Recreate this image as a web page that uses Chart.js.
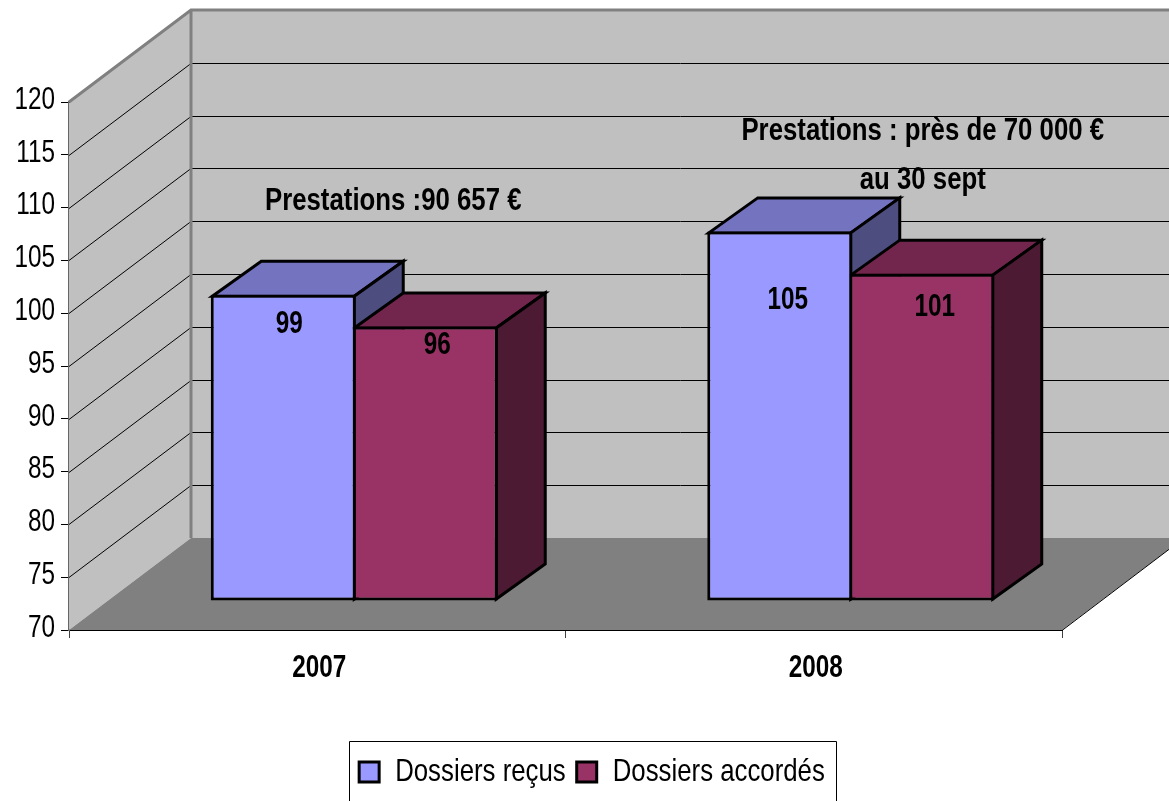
<!DOCTYPE html>
<html>
<head>
<meta charset="utf-8">
<style>
  html, body { margin: 0; padding: 0; background: #fff; overflow: hidden; }
</style>
<script src="https://cdn.jsdelivr.net/npm/chart.js@4"></script>
</head>
<body>
<canvas id="myChart" width="1169" height="801" style="display:block"></canvas>
<script>
const years = ["2007", "2008"];
const dossiersRecus = [99, 105];
const dossiersAccordes = [96, 101];
const yTicks = [70, 75, 80, 85, 90, 95, 100, 105, 110, 115, 120];
const notes = ["Prestations :90 657 €", "Prestations : près de 70 000 €", "au 30 sept"];

const FONT = '"Liberation Sans", Arial, sans-serif';

// depth of the box, and how far back the bars stand on the floor
const WALL = { x: 122, y: -92 };
const BAR_SHIFT = { x: 37, y: -29 };
const BAR_DEPTH = { x: 49, y: -35 };
const EDGE = 3;

// no narrow font here, so squeeze the text like Arial Narrow
const canvas = document.getElementById("myChart");
const rawCtx = canvas.getContext("2d");
const rawFill = rawCtx.fillText.bind(rawCtx);
const rawMeasure = rawCtx.measureText.bind(rawCtx);
const squeeze = text => /[a-z]/i.test(text) ? 0.806 : 0.76;
rawCtx.fillText = function (text, x, y) {
    rawCtx.save();
    rawCtx.translate(x, y);
    rawCtx.scale(squeeze(String(text)), 1);
    rawFill(text, 0, 0);
    rawCtx.restore();
};
rawCtx.measureText = text => ({ width: rawMeasure(text).width * squeeze(String(text)) });

function poly(ctx, pts, fill, stroke, lw) {
    ctx.beginPath();
    pts.forEach((p, i) => i ? ctx.lineTo(p[0], p[1]) : ctx.moveTo(p[0], p[1]));
    ctx.closePath();
    if (fill) { ctx.fillStyle = fill; ctx.fill(); }
    if (stroke) { ctx.strokeStyle = stroke; ctx.lineWidth = lw; ctx.lineJoin = "miter"; ctx.stroke(); }
}

const box3d = {
    id: "box3d",
    afterLayout(chart) {
        // centre the legend under the picture, not under the plot
        chart.legend.left = 0;
        chart.legend.right = 1184;
    },
    beforeDatasetsDraw(chart) {
        const ctx = chart.ctx, a = chart.chartArea, y = chart.scales.y;
        const w = WALL, d = BAR_DEPTH;
        ctx.save();
        poly(ctx, [[a.left, a.top], [a.left + w.x, a.top + w.y], [a.left + w.x, a.bottom + w.y], [a.left, a.bottom]], "#c0c0c0");
        poly(ctx, [[a.left + w.x, a.top + w.y], [a.right + w.x, a.top + w.y], [a.right + w.x, a.bottom + w.y], [a.left + w.x, a.bottom + w.y]], "#c0c0c0");
        poly(ctx, [[a.left, a.bottom], [a.left + w.x, a.bottom + w.y], [a.right + w.x, a.bottom + w.y], [a.right, a.bottom]], "#808080");

        ctx.strokeStyle = "#000";
        ctx.lineWidth = 1;
        yTicks.forEach(t => {
            if (t === yTicks[0]) return;
            const py = Math.round(y.getPixelForValue(t)) + 0.5;
            ctx.beginPath();
            ctx.moveTo(a.left, py);
            ctx.lineTo(a.left + w.x, py + w.y);
            ctx.lineTo(a.right + w.x, py + w.y);
            ctx.stroke();
        });
        // outline of the walls, grey like the original
        ctx.strokeStyle = "#808080";
        ctx.lineWidth = 3;
        ctx.beginPath();
        ctx.moveTo(a.left, a.top);
        ctx.lineTo(a.left + w.x, a.top + w.y);
        ctx.lineTo(a.right + w.x, a.top + w.y);
        ctx.moveTo(a.left + w.x, a.top + w.y);
        ctx.lineTo(a.left + w.x, a.bottom + w.y);
        ctx.stroke();
        ctx.strokeStyle = "#000";
        ctx.lineWidth = 1;
        ctx.beginPath();
        ctx.moveTo(a.right, a.bottom + 0.5);
        ctx.lineTo(a.right + w.x, a.bottom + w.y);
        ctx.stroke();

        // top and side faces left to right, so the right bar hides the left one
        ctx.translate(BAR_SHIFT.x, BAR_SHIFT.y);
        const half = EDGE / 2;
        chart.data.labels.forEach((lab, j) => {
            chart.data.datasets.forEach((ds, i) => {
                const bar = chart.getDatasetMeta(i).data[j];
                const l = bar.x - bar.width / 2 + half, r = bar.x + bar.width / 2 - half;
                const t = bar.y + half, b = bar.base - half;
                poly(ctx, [[l, t], [l + d.x, t + d.y], [r + d.x, t + d.y], [r, t]], ds.topColor, "#000", EDGE);
                poly(ctx, [[r, t], [r + d.x, t + d.y], [r + d.x, b + d.y], [r, b]], ds.sideColor, "#000", EDGE);
            });
        });
        ctx.restore();
    },
    beforeDatasetDraw(chart) {
        chart.ctx.save();
        chart.ctx.translate(BAR_SHIFT.x, BAR_SHIFT.y);
    },
    afterDatasetDraw(chart) {
        chart.ctx.restore();
    },
    afterDatasetsDraw(chart) {
        const ctx = chart.ctx, x = chart.scales.x, y = chart.scales.y;
        ctx.save();
        ctx.fillStyle = "#000";
        ctx.textAlign = "center";
        ctx.textBaseline = "middle";
        ctx.font = "bold 32px " + FONT;
        // value labels sit where the original left them on each bar
        const nudge = [[[6, 29], [8, 69]], [[12, 19], [13, 34]]];
        chart.data.datasets.forEach((ds, i) => {
            chart.getDatasetMeta(i).data.forEach((bar, j) => {
                ctx.fillText(ds.data[j], bar.x + BAR_SHIFT.x + nudge[i][j][0], bar.y + BAR_SHIFT.y + nudge[i][j][1]);
            });
        });
        ctx.fillText(notes[0], x.getPixelForValue(0) + 76, y.getPixelForValue(110.6));
        ctx.fillText(notes[1], x.getPixelForValue(1) + 109, y.getPixelForValue(117.2));
        ctx.fillText(notes[2], x.getPixelForValue(1) + 109, y.getPixelForValue(112.6));
        ctx.restore();
    },
    afterDraw(chart) {
        // frame round the legend, its lower edge falls off the page
        const ctx = chart.ctx;
        ctx.save();
        ctx.strokeStyle = "#000";
        ctx.lineWidth = 1;
        ctx.beginPath();
        ctx.moveTo(349.5, 801);
        ctx.lineTo(349.5, 741.5);
        ctx.lineTo(836.5, 741.5);
        ctx.lineTo(836.5, 801);
        ctx.stroke();
        ctx.restore();
    }
};

new Chart(canvas, {
    type: "bar",
    data: {
        labels: years,
        datasets: [
            {
                label: "Dossiers reçus",
                data: dossiersRecus,
                backgroundColor: "#9999ff",
                topColor: "#7373bf",
                sideColor: "#4d4d80",
                borderColor: "#000",
                borderWidth: EDGE,
                borderSkipped: false,
                base: 70,
                clip: false
            },
            {
                label: "Dossiers accordés",
                data: dossiersAccordes,
                backgroundColor: "#993366",
                topColor: "#73264d",
                sideColor: "#4d1a33",
                borderColor: "#000",
                borderWidth: EDGE,
                borderSkipped: false,
                base: 70,
                clip: false
            }
        ]
    },
    options: {
        responsive: false,
        animation: false,
        devicePixelRatio: 1,
        layout: { padding: { top: 102, right: 107, bottom: 3, left: 0 } },
        datasets: { bar: { categoryPercentage: 0.572, barPercentage: 1.021 } },
        scales: {
            x: {
                grid: { drawOnChartArea: false, tickLength: 8, color: "#000", tickColor: "#404040" },
                border: { color: "#000", width: 1 },
                ticks: { color: "#000", font: { family: FONT, size: 32, weight: "bold" }, padding: 11, labelOffset: 2 },
                afterFit(s) { s.height = 115; }
            },
            y: {
                min: 70,
                max: 120,
                grid: { drawOnChartArea: false, tickLength: 8, color: "#000" },
                border: { color: "#666", width: 2 },
                ticks: { stepSize: 5, color: "#000", font: { family: FONT, size: 32 }, padding: 6, labelOffset: -2 },
                afterFit(s) { s.width = 69; }
            }
        },
        plugins: {
            legend: {
                position: "bottom",
                labels: {
                    color: "#000",
                    font: { family: FONT, size: 32 },
                    boxWidth: 20,
                    boxHeight: 20,
                    padding: 11
                }
            },
            tooltip: { enabled: false }
        }
    },
    plugins: [box3d]
});
</script>
</body>
</html>
